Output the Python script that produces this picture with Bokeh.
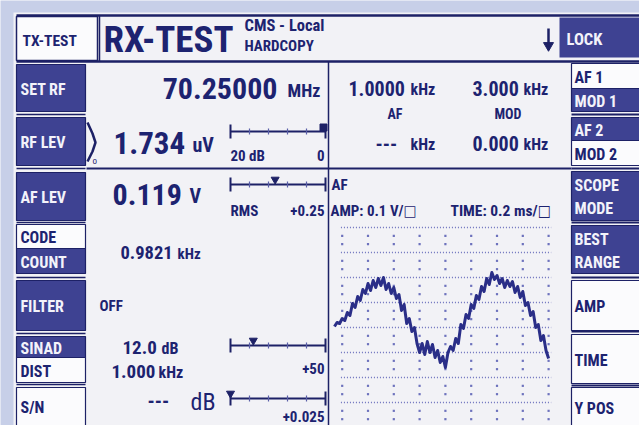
from bokeh.plotting import figure
from bokeh.models import Range1d
from bokeh.core.properties import value
from bokeh.embed import file_html
from bokeh.resources import INLINE

# ---------------- data ----------------
scope_t_ms = [-0.06, -0.04, -0.02, 0.00, 0.02, 0.04, 0.06, 0.08, 0.10, 0.12,
              0.14, 0.16, 0.18, 0.20, 0.22, 0.24, 0.26, 0.28, 0.30, 0.32,
              0.34, 0.36, 0.38, 0.40, 0.42, 0.44, 0.46, 0.48, 0.50, 0.52,
              0.54, 0.56, 0.58, 0.60, 0.62, 0.64, 0.66, 0.68, 0.70, 0.72,
              0.74, 0.76, 0.78, 0.80, 0.82, 0.84, 0.86, 0.88, 0.90, 0.92,
              0.94, 0.96, 0.98, 1.00, 1.02, 1.04, 1.06, 1.08, 1.10, 1.12,
              1.14, 1.16, 1.18, 1.20, 1.22, 1.24, 1.26, 1.28, 1.30, 1.32,
              1.34, 1.36, 1.38, 1.40, 1.42, 1.44, 1.46, 1.48, 1.50, 1.52,
              1.54, 1.56, 1.58, 1.60]
scope_v = [0.004, 0.020, 0.016, 0.036, 0.028, 0.060, 0.048, 0.096, 0.080, 0.124,
           0.108, 0.152, 0.136, 0.176, 0.148, 0.188, 0.160, 0.196, 0.168, 0.200,
           0.152, 0.176, 0.136, 0.160, 0.116, 0.132, 0.068, 0.092, 0.016, 0.036,
           -0.016, 0.000, -0.064, -0.100, -0.064, -0.108, -0.056, -0.100, -0.068, -0.120,
           -0.092, -0.140, -0.116, -0.160, -0.100, -0.076, -0.092, -0.044, -0.064, 0.012,
           -0.004, 0.052, 0.036, 0.092, 0.076, 0.128, 0.112, 0.164, 0.144, 0.196,
           0.172, 0.220, 0.192, 0.208, 0.176, 0.196, 0.160, 0.188, 0.164, 0.184,
           0.140, 0.164, 0.120, 0.144, 0.088, 0.100, 0.048, 0.064, 0.000, 0.012,
           -0.052, -0.032, -0.092, -0.124]

amp_per_div = 0.1      # V / div
time_per_div = 0.2     # ms / div
grid_v_lines = [0.4, 0.3, 0.2, 0.1, 0.0, -0.1, -0.2, -0.3, -0.4]
grid_t_cols = [0.0, 0.2, 0.4, 0.6, 0.8, 1.0, 1.2, 1.4, 1.6]

meter_fraction = [1.0, 0.47, 0.24, 0.0]
meter_left_label = ["20 dB", "RMS", "", ""]
meter_right_label = ["0", "+0.25", "+50", "+0.025"]

left_keys = ["SET RF", "RF LEV", "AF LEV", "CODE", "COUNT", "FILTER", "SINAD", "DIST", "S/N"]
left_key_active = [True, True, True, False, True, True, True, False, False]
right_keys = ["AF 1", "MOD 1", "AF 2", "MOD 2", "SCOPE", "BEST", "AMP", "TIME", "Y POS"]
right_key_active = [False, True, True, False, True, True, False, False, False]

# ---------------- styling ----------------
FONT = ("'Noto Sans ExtraCondensed', 'Noto Sans Condensed', 'Roboto Condensed', "
        "'Open Sans Condensed', 'DejaVu Sans Condensed', sans-serif")
NAVY = "#1d2370"
KEY = "#3e4292"
KEYTXT = "#f3f3fa"
BG = "#f2f2f6"
OUTER = "#c7cfe8"
LINE = "#1d2166"
W, H = 639, 425

p = figure(width=W, height=H, output_backend="svg", toolbar_location=None,
           x_range=Range1d(0, W), y_range=Range1d(H, 0),
           x_axis_type=None, y_axis_type=None, min_border=0,
           background_fill_color=OUTER, border_fill_color=OUTER)
p.grid.visible = False
p.outline_line_color = None

# scope coordinates through the library's own ranges
px_per_div_x = 25.8
px_per_div_y = 25.0
x0_px, y0_px = 341.7, 327.0
p.extra_x_ranges = {"t": Range1d((0 - x0_px) / px_per_div_x * time_per_div,
                                 (W - x0_px) / px_per_div_x * time_per_div)}
p.extra_y_ranges = {"v": Range1d((y0_px - H) / px_per_div_y * amp_per_div,
                                 (y0_px - 0) / px_per_div_y * amp_per_div)}


def txt(x, y, s, size, color=NAVY, align="left", bold=True, baseline="middle"):
    p.text(x=[x], y=[y], text=[s], text_font=value(FONT), text_font_size=f"{size}px",
           text_color=color, text_align=align, text_baseline=baseline,
           text_font_style="bold" if bold else "normal")


def box(l, r, t, b, fill, line=LINE, lw=1.5):
    p.quad(left=[l], right=[r], top=[t], bottom=[b], fill_color=fill,
           line_color=line, line_width=lw)


def hline(x0, x1, y, lw=1.5, color=LINE):
    p.segment(x0=[x0], y0=[y], x1=[x1], y1=[y], line_color=color, line_width=lw)


def vline(x, y0, y1, lw=1.5, color=LINE):
    p.segment(x0=[x], y0=[y0], x1=[x], y1=[y1], line_color=color, line_width=lw)


# display background
p.quad(left=[13], right=[W + 5], top=[12], bottom=[H + 5], fill_color=BG, line_color=None)

# ---------------- header ----------------
hline(16, W + 5, 15, lw=2.5)
hline(16, W + 5, 61, lw=2.5)
box(16, 97, 16, 60, "#fbfbfd")
vline(99, 15, 61, lw=1.5)
txt(22, 40, "TX-TEST", 15.5)
txt(103, 39, "RX-TEST", 37)
txt(244, 25, "CMS - Local", 16.5)
txt(244, 45, "HARDCOPY", 15)
vline(548, 28, 44, lw=2.5)
p.scatter(x=[548], y=[45], marker="inverted_triangle", size=10, fill_color=LINE, line_color=LINE)
box(559, W + 5, 17, 57, KEY, line=None)
txt(566, 39, "LOCK", 16.5, color=KEYTXT)

# ---------------- left soft keys ----------------
left_geom = [(64, 111), (117, 165), (172, 220), (224, 248), (248, 273),
             (280, 330), (336, 357), (357, 382), (387, 432)]
for (t, b), lab, act in zip(left_geom, left_keys, left_key_active):
    box(16, 85, t, b, KEY if act else "#fbfbfd", line=LINE, lw=1.2)
    yy = (t + b) / 2 + 1 if b < H else 407
    txt(20, yy, lab, 16, color=KEYTXT if act else NAVY)
for y in [114, 168, 222, 277, 333, 384]:
    hline(16, 85, y, lw=1.5)

# ---------------- right soft keys ----------------
right_geom = [(63, 88), (88, 111), (117, 140), (140, 165), (171, 220), (225, 273),
              (280, 330), (334, 383), (387, 432)]
for (t, b), lab, act in zip(right_geom, right_keys, right_key_active):
    box(571, W + 5, t, b, KEY if act else "#fbfbfd", line=LINE, lw=1.2)
    if lab == "SCOPE":
        txt(574, 185, "SCOPE", 16, color=KEYTXT)
        txt(574, 208, "MODE", 16, color=KEYTXT)
    elif lab == "BEST":
        txt(574, 239, "BEST", 16, color=KEYTXT)
        txt(574, 262, "RANGE", 16, color=KEYTXT)
    else:
        yy = (t + b) / 2 + 1 if b < H else 408
        txt(574, yy, lab, 16, color=KEYTXT if act else NAVY)
for y in [114, 168, 222, 277, 331, 385]:
    hline(571, W + 5, y, lw=2)

# ---------------- separators ----------------
hline(86, 571, 168, lw=1.8)
vline(328, 61, H + 5, lw=1.5)
# RF LEV bracket
p.line(x=[87, 92, 95, 92, 87], y=[122, 133, 142, 151, 161], line_color=LINE, line_width=2.5)
txt(92, 160, "o", 9, bold=False)

# ---------------- readings ----------------
txt(277, 88, "70.25000", 30, align="right")
txt(287, 90, "MHz", 18)
txt(113, 142, "1.734", 31)
txt(192, 144, "uV", 20)
txt(112, 194, "0.119", 30)
txt(189, 195, "V", 20)

txt(348, 88, "1.0000", 20)
txt(410, 89, "kHz", 16)
txt(472, 88, "3.000", 20)
txt(523, 89, "kHz", 16)
txt(387, 113, "AF", 14)
txt(494, 113, "MOD", 14)
txt(375, 143, "---", 20)
txt(410, 144, "kHz", 16)
txt(472, 143, "0.000", 20)
txt(523, 144, "kHz", 16)

txt(120, 252, "0.9821", 18.5)
txt(177, 253, "kHz", 15)
txt(99, 305, "OFF", 15)
txt(122, 347, "12.0", 19)
txt(161, 348, "dB", 16)
txt(111, 371, "1.000", 19)
txt(158, 372, "kHz", 16)
txt(147, 400, "---", 20)
txt(190, 401, "dB", 24, bold=False)

# ---------------- meters ----------------
meter_y = [131, 184, 345, 398]
meter_lab_y = [155, 210, 368, 416]
mx0, mx1 = 230, 325
for i, (my, frac) in enumerate(zip(meter_y, meter_fraction)):
    hline(mx0, mx1, my, lw=1.8)
    vline(mx0, my - 7, my + 7, lw=2)
    vline(mx1, my - 7, my + 7, lw=2)
    for k in range(1, 5):
        xx = mx0 + (mx1 - mx0) * k / 5
        vline(xx, my - 3, my + 3, lw=1.2, color="#5a5fa8")
    mx = mx0 + (mx1 - mx0) * frac
    if i == 0:
        p.scatter(x=[mx - 2], y=[my - 4], marker="square", size=7, fill_color=LINE, line_color=LINE)
    else:
        p.scatter(x=[mx], y=[my - 5], marker="inverted_triangle", size=8, fill_color=LINE, line_color=LINE)
    if meter_left_label[i]:
        txt(mx0, meter_lab_y[i], meter_left_label[i], 15)
    txt(mx1 - 1, meter_lab_y[i], meter_right_label[i], 15, align="right")

# ---------------- scope ----------------
txt(331, 184, "AF", 15)
txt(330, 210, "AMP: 0.1 V/\u25a1", 15)
txt(450, 210, "TIME: 0.2 ms/\u25a1", 15.5)

GRID = "#6d72bd"
p.multi_line(xs=[[grid_t_cols[0] - 0.01, grid_t_cols[-1] + 0.02] for _ in grid_v_lines],
             ys=[[v, v] for v in grid_v_lines],
             x_range_name="t", y_range_name="v",
             line_color=GRID, line_width=1.6, line_dash="1 2")
dot_t, dot_v = [], []
for tcol in grid_t_cols:
    for v in grid_v_lines:
        for s in (1, 2):
            vv = v + amp_per_div * s / 3
            if vv <= 0.4:
                dot_t.append(tcol)
                dot_v.append(vv)
p.scatter(x=dot_t, y=dot_v, x_range_name="t", y_range_name="v", marker="square",
          size=2.2, fill_color=GRID, line_color=None)

p.line(x=scope_t_ms, y=scope_v, x_range_name="t", y_range_name="v",
       line_color="#2a2e88", line_width=3.0, line_join="round")

open("out.html", "w").write(file_html(p, INLINE))
